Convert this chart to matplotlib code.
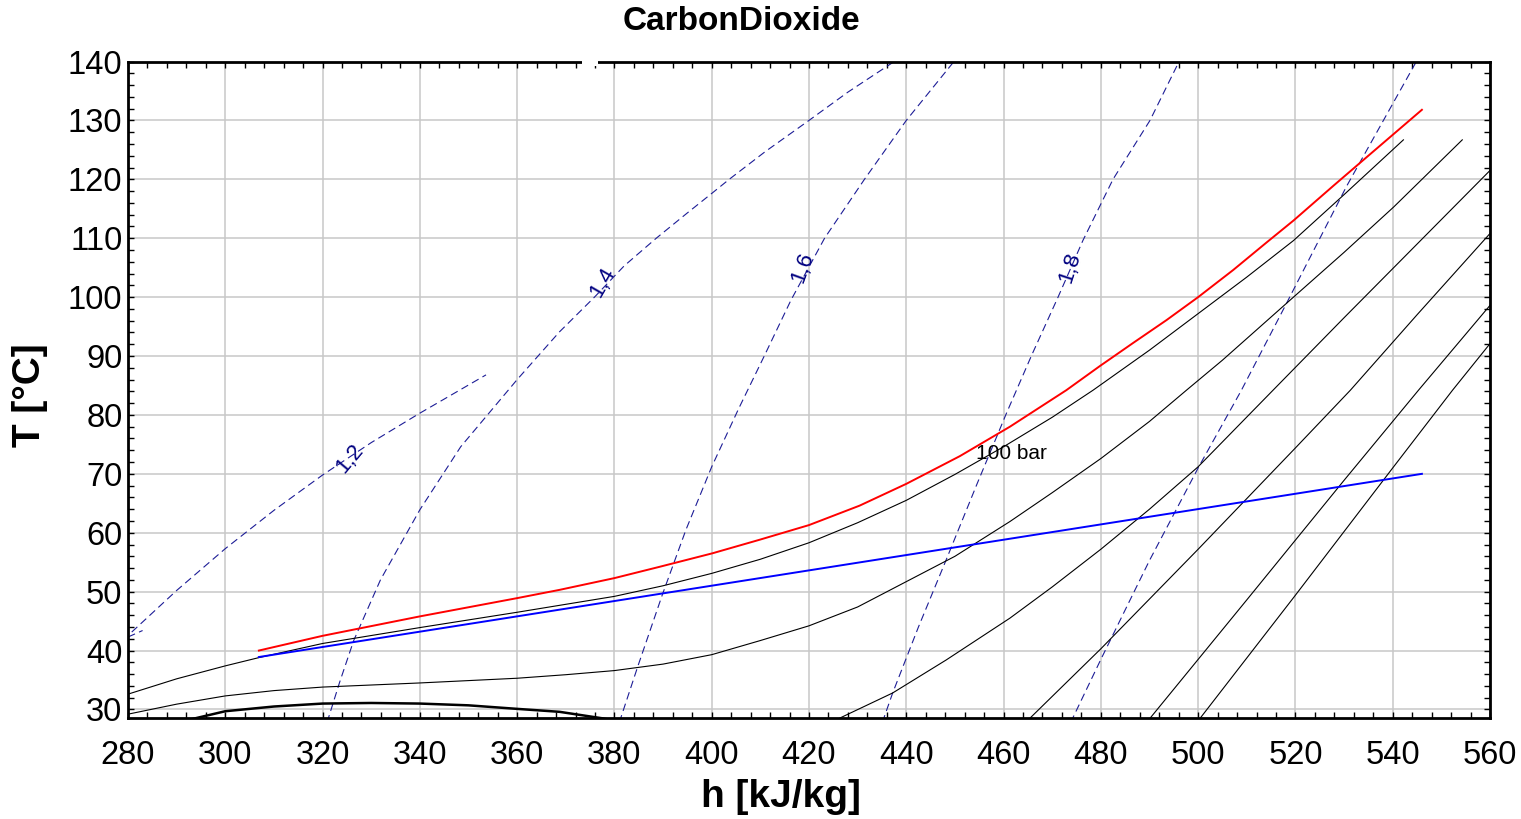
import matplotlib
matplotlib.use("Agg")
import matplotlib.pyplot as plt
from matplotlib.patches import Rectangle
import numpy as np

plt.rcParams['font.family'] = ['Liberation Sans', 'DejaVu Sans']
plt.rcParams['lines.scale_dashes'] = False

# ---------------- data (h [kJ/kg], T [°C]) ----------------
title = "CarbonDioxide"
x_label = "h [kJ/kg]"
y_label = "T [°C]"
x_ticks = list(range(280, 561, 20))
y_ticks = list(range(30, 141, 10))

# isobars (black)
iso_100_h = [280, 290, 300, 306.9, 320, 340, 360, 380, 390, 400, 410, 420, 430, 440, 450, 460, 470,
             478.4, 490, 500, 510, 519.6, 530, 542.2]
iso_100_T = [32.6, 35.2, 37.4, 38.8, 41.2, 43.9, 46.5, 49.2, 51.0, 53.1, 55.5, 58.3, 61.7, 65.5, 69.9, 74.6, 79.6,
             84.2, 91.0, 97.2, 103.4, 109.6, 117.4, 126.7]
iso_b_h = [280, 290, 300, 310, 320, 340, 360, 370, 380, 390, 400, 410, 420, 430, 440, 450, 461.3, 470, 480,
           490, 497.6, 505, 519.6, 530, 540.2, 554.3]
iso_b_T = [29.2, 30.9, 32.3, 33.2, 33.8, 34.5, 35.3, 35.9, 36.6, 37.7, 39.3, 41.7, 44.2, 47.4, 51.7, 56.0, 61.9, 66.8, 72.6,
           78.9, 84.2, 89.3, 100.0, 107.6, 115.3, 126.7]
iso_c_h = [425.0, 427, 437.2, 448.2, 461.3, 470, 480, 490, 500, 515.4, 530, 545, 560]
iso_c_T = [28.0, 28.8, 32.8, 38.4, 45.5, 50.8, 57.2, 64.0, 71.2, 84.2, 96.5, 109.0, 121.5]
iso_d_h = [463.5, 465.4, 480, 500, 520, 531.3, 545, 560]
iso_d_T = [27.0, 28.5, 40.3, 57.2, 74.4, 84.2, 97.0, 110.8]
iso_e_h = [489.0, 490.1, 510, 530, 545.3, 560]
iso_e_T = [27.5, 28.5, 48.6, 68.9, 84.2, 98.6]
iso_f_h = [499.4, 500.4, 520, 540, 552.3, 560]
iso_f_T = [27.5, 28.5, 49.4, 71.0, 84.2, 92.1]
iso_label = "100 bar"

# saturation dome
sat_h = [288.0, 292.8, 300, 310, 320, 330, 340, 350, 360, 368.7, 377.5, 382.0]
sat_T = [27.5, 28.3, 29.7, 30.5, 31.0, 31.1, 31.0, 30.7, 30.1, 29.6, 28.5, 27.8]

# process lines
red_h = [306.9, 320, 340, 360, 368.7, 380, 389.2, 400.1, 409.8, 420, 430.4, 440, 451, 461.3, 472.9, 479.8,
         486.6, 493.5, 500, 507.2, 514.1, 519.6, 527.8, 534.7, 546]
red_T = [40.0, 42.5, 45.8, 48.9, 50.3, 52.3, 54.2, 56.5, 58.8, 61.3, 64.6, 68.3, 73.0, 78.0, 84.2, 88.3,
         92.2, 96.1, 100.0, 104.6, 109.3, 113.0, 118.9, 123.8, 131.8]
blue_h = [306.9, 546]
blue_T = [38.9, 70.0]

# isentropes (dashed navy)
s12_h = [279.0, 279.8, 290, 300, 310, 320, 330, 340, 353.6]
s12_T = [41.7, 42.4, 50.2, 57.3, 63.8, 69.8, 75.3, 80.3, 86.8]
s12b_h = [280.0, 283.0]
s12b_T = [42.3, 43.4]
s14_h = [320.9, 321.3, 323.5, 326.4, 331.9, 340, 348.4, 360, 368.7, 375.9, 382, 388.6, 395, 400, 403.6,
         411, 420, 428, 437.9, 438.5]
s14_T = [27.8, 28.8, 34.6, 41.7, 52.0, 63.9, 74.6, 86.0, 94.1, 100.0, 105.3, 110.0, 114.3, 117.6, 120.0,
         124.7, 130.0, 134.8, 140.2, 140.5]
s16_h = [381.0, 381.4, 384.8, 389.9, 394.7, 400.0, 405.5, 410.8, 416.3, 423.2, 431.4, 440, 450, 450.5]
s16_T = [27.8, 28.8, 37.3, 49.6, 60.5, 71.2, 81.0, 90.0, 99.5, 110.0, 120.0, 130.0, 140.2, 140.8]
s18_h = [435.1, 435.5, 437.2, 442.5, 448.2, 454.5, 460.6, 465.7, 471.2, 476.3, 482.5, 490.1, 496.2, 496.6]
s18_T = [27.8, 28.8, 32.8, 44.0, 55.4, 68.2, 80.3, 90.0, 100.0, 109.6, 120.0, 130.0, 140.2, 140.8]
s19_h = [473.8, 474.2, 480, 490, 500, 508.9, 518.2, 530.5, 545.0, 545.4]
s19_T = [27.8, 28.5, 38.5, 55.3, 71.0, 84.2, 99.0, 118.8, 140.2, 140.8]
s_labels = ["1,2", "1,4", "1,6", "1,8"]
s_label_h = [325.5, 377.5, 418.7, 473.6]
s_label_T = [72.5, 102.5, 105.0, 105.0]
s_label_rot = [50, 60, 70, 72]

# ---------------- figure ----------------
fig = plt.figure(figsize=(15.21, 8.19), dpi=100)
ax = fig.add_axes([128 / 1521, 1 - 718 / 819, (1490 - 128) / 1521, (718 - 61.5) / 819])

ax.set_xlim(280, 560)
ax.set_ylim(28.55, 140)
ax.set_xticks(x_ticks)
ax.set_yticks(y_ticks)
ax.set_xticks(np.arange(280, 561, 4), minor=True)
ax.set_yticks(np.arange(30, 141, 2), minor=True)
ax.grid(True, which='major', color='#c8c8c8', linewidth=1.1)
ax.set_axisbelow(True)
ax.tick_params(which='both', direction='in', top=True, right=True, length=4, width=1, colors='black')
ax.tick_params(axis='x', labelsize=23.5, pad=16)
ax.tick_params(axis='y', labelsize=23.5, pad=4)
for sp in ax.spines.values():
    sp.set_linewidth(2)

navy = '#1c1c96'
dash = (0, (5.5, 3.2))
kw_s = dict(color=navy, linewidth=0.8, linestyle=dash)
for hh, tt in [(s12_h, s12_T), (s12b_h, s12b_T), (s14_h, s14_T), (s16_h, s16_T), (s18_h, s18_T), (s19_h, s19_T)]:
    ax.plot(hh, tt, **kw_s)

kw_i = dict(color='black', linewidth=0.8)
for hh, tt in [(iso_100_h, iso_100_T), (iso_b_h, iso_b_T), (iso_c_h, iso_c_T),
               (iso_d_h, iso_d_T), (iso_e_h, iso_e_T), (iso_f_h, iso_f_T)]:
    ax.plot(hh, tt, **kw_i)
ax.plot(sat_h, sat_T, color='black', linewidth=1.8)

ax.plot(blue_h, blue_T, color='#0000ff', linewidth=1.4)
ax.plot(red_h, red_T, color='#ff0000', linewidth=1.4)

ax.text(454.3, 73.5, iso_label, fontsize=15, ha='left', va='center', color='black')
for lab, hx, ty, rot in zip(s_labels, s_label_h, s_label_T, s_label_rot):
    ax.text(hx, ty, lab, fontsize=16, color='#000080', rotation=rot,
            ha='center', va='center', rotation_mode='anchor')

fig.text(781 / 1521, 1 - 797 / 819, x_label, fontsize=28, fontweight='bold', ha='center', va='center')
fig.text(30 / 1521, 1 - 395 / 819, y_label, fontsize=28, fontweight='bold', ha='center', va='center',
         rotation=90)
fig.text(741 / 1521, 1 - 22 / 819, title, fontsize=24, fontweight='bold', ha='center', va='center')

# gap in the top frame line under the title box
fig.patches.append(Rectangle((582 / 1521, 1 - 66 / 819), 16 / 1521, 10 / 819,
                             transform=fig.transFigure, facecolor='white', edgecolor='none', zorder=10))

fig.savefig('out.png', dpi=100)
